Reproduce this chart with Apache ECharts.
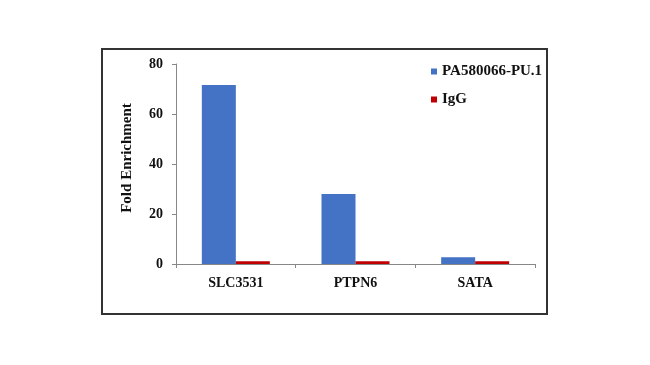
<!DOCTYPE html>
<html><head><meta charset="utf-8">
<script src="https://cdn.jsdelivr.net/npm/echarts@6/dist/echarts.min.js"></script>
<style>html,body{margin:0;padding:0;background:#fff;}#c{width:650px;height:365px;}</style>
</head><body><div id="c"></div>
<script>
var categories = ['SLC3531', 'PTPN6', 'SATA'];
var seriesNames = ['PA580066-PU.1', 'IgG'];
var puValues = [71.6, 28, 2.7];
var iggValues = [1.1, 1.1, 1.1];
var yTicks = [0, 20, 40, 60, 80];
var yTitle = 'Fold Enrichment';

var F = '"Liberation Serif", "Times New Roman", serif';
var chart = echarts.init(document.getElementById('c'));
chart.setOption({
  animation: false,
  backgroundColor: '#fff',
  graphic: [
    {type: 'rect', shape: {x: 102, y: 49, width: 445, height: 265}, style: {fill: 'none', stroke: '#333', lineWidth: 2}, z: 100},
    {type: 'text', x: 127, y: 158, rotation: Math.PI / 2, style: {text: yTitle, fontFamily: F, fontWeight: 'bold', fontSize: 15, fill: '#111', align: 'center', verticalAlign: 'middle'}}
  ],
  grid: {left: 176, right: 115, top: 64, bottom: 101},
  legend: {
    orient: 'vertical', left: 426, top: 59, itemGap: 13, itemWidth: 6, itemHeight: 6, icon: 'rect',
    textStyle: {fontFamily: F, fontWeight: 'bold', fontSize: 15, color: '#111'},
    data: seriesNames
  },
  xAxis: {
    type: 'category', data: categories,
    axisLine: {lineStyle: {color: '#888'}},
    axisTick: {show: true, length: 4, lineStyle: {color: '#888'}},
    axisLabel: {fontFamily: F, fontWeight: 'bold', fontSize: 14, color: '#111', margin: 12}
  },
  yAxis: {
    type: 'value', min: yTicks[0], max: yTicks[yTicks.length - 1], interval: 20,
    axisLine: {show: true, lineStyle: {color: '#888'}},
    axisTick: {show: true, length: 4, lineStyle: {color: '#888'}},
    splitLine: {show: false},
    axisLabel: {fontFamily: F, fontWeight: 'bold', fontSize: 14, color: '#111', margin: 13}
  },
  series: [
    {name: seriesNames[0], type: 'bar', data: puValues, barWidth: 34, barGap: '0%', itemStyle: {color: '#4472C4'}},
    {name: seriesNames[1], type: 'bar', data: iggValues, barWidth: 34, barGap: '0%', itemStyle: {color: '#C00000'}}
  ]
});
</script></body></html>
